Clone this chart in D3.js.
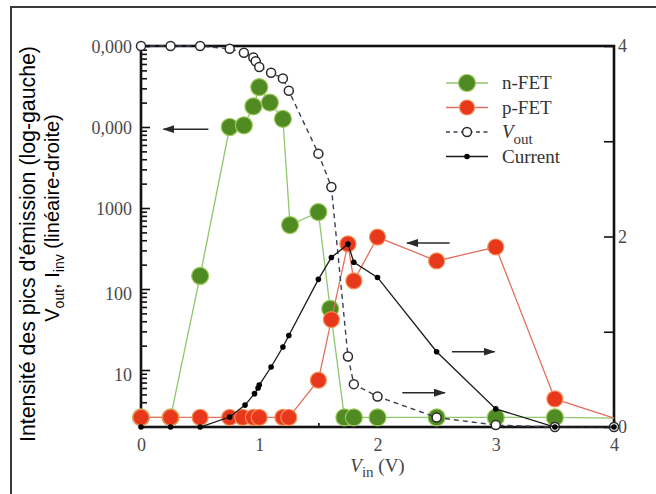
<!DOCTYPE html>
<html><head><meta charset="utf-8">
<script src="https://cdn.jsdelivr.net/npm/d3@7"></script>
<style>body{margin:0;background:#fff}</style>
</head><body><svg id="c" width="656" height="494"></svg>
<script>
// ---- data ----
const xTicks = [0, 1, 2, 3, 4];
const xTickLabels = ["0", "1", "2", "3", "4"];
const xMinorTicks = [0.5, 1.5, 2.5, 3.5];
const leftTickValues = [10, 100, 1000, 10000, 100000];
const leftTickLabels = ["10", "100", "1000", "0,000", "0,000"];
const rightTickValues = [0, 1, 2, 3, 4];
const rightTickLabels = ["0", "", "2", "", "4"];

const nfetX = [0, 0.25, 0.5, 0.75, 0.87, 0.95, 1.0, 1.09, 1.2, 1.26, 1.5, 1.6, 1.72, 1.8, 2.0, 2.5, 3.0, 3.5, 4.0];
const nfetY = [2.6, 2.6, 145, 10000, 10500, 18000, 31000, 20000, 12600, 616, 890, 57, 2.6, 2.6, 2.6, 2.6, 2.6, 2.6, 2.55];

const pfetX = [0, 0.25, 0.5, 0.75, 0.86, 0.95, 1.0, 1.2, 1.25, 1.5, 1.61, 1.75, 1.8, 2.0, 2.5, 3.0, 3.5, 4.0];
const pfetY = [2.6, 2.6, 2.6, 2.6, 2.6, 2.6, 2.6, 2.6, 2.6, 7.5, 42, 360, 126, 438, 222, 330, 4.4, 2.55];

const voutX = [0, 0.25, 0.5, 0.75, 0.87, 0.95, 0.97, 1.0, 1.1, 1.2, 1.25, 1.5, 1.61, 1.75, 1.8, 2.0, 2.5, 3.0, 3.5, 4.0];
const voutY = [4.0, 4.0, 4.0, 3.97, 3.93, 3.88, 3.84, 3.78, 3.72, 3.66, 3.53, 2.87, 2.52, 0.74, 0.45, 0.32, 0.10, 0.02, 0.0, 0.0];

const currentX = [0, 0.25, 0.5, 0.75, 0.88, 0.96, 0.99, 1.0, 1.1, 1.2, 1.25, 1.5, 1.61, 1.75, 1.8, 2.0, 2.5, 3.0, 3.5, 4.0];
const currentY = [0, 0, 0, 0.105, 0.23, 0.35, 0.41, 0.44, 0.63, 0.84, 0.96, 1.55, 1.78, 1.92, 1.73, 1.57, 0.79, 0.19, 0, 0];

// annotation arrows: [x from, x to, value, axis]
const arrows = [
  [0.57, 0.19, 9400, "L"],
  [2.61, 2.25, 370, "L"],
  [2.63, 2.99, 0.79, "R"],
  [2.21, 2.57, 0.36, "R"]
];

const legendLabels = ["n-FET", "p-FET", "V", "Current"];

// ---- chart ----
const W = 656, H = 494;
const svg = d3.select("#c");
svg.append("rect").attr("width", W).attr("height", H).attr("fill", "#fff");

const plot = {left: 141, right: 614, top: 46, bottom: 427};
const x = d3.scaleLinear().domain([0, 4]).range([plot.left, plot.right]);
const yL = d3.scaleLog().domain([1.98, 100000]).range([plot.bottom, plot.top]);
const yR = d3.scaleLinear().domain([0, 4]).range([plot.bottom, plot.top]);

// outer frame (top + left)
svg.append("path").attr("d", `M11,494 L11,7 L656,7`).attr("fill", "none")
  .attr("stroke", "#3a3a3a").attr("stroke-width", 2);

const serif = "'Liberation Serif', 'Times New Roman', serif";
const tickColor = "#4a4a4a";

function styleAxis(g, fs) {
  g.select(".domain").remove();
  g.selectAll(".tick line").attr("stroke", "#111").attr("stroke-width", 1.6);
  g.selectAll(".tick text").attr("font-family", serif).attr("font-size", fs).attr("fill", tickColor);
}

// left log axis major
const gL = svg.append("g").attr("transform", `translate(${plot.left},0)`)
  .call(d3.axisLeft(yL).tickValues(leftTickValues)
    .tickFormat((d, i) => leftTickLabels[i]).tickSize(-9).tickSizeOuter(0).tickPadding(9));
styleAxis(gL, 18);
gL.selectAll(".tick text").attr("dy", (d, i) => (i < 2 ? 0.6 : 0.35) + "em");
// left log axis minor
const minorL = [];
for (let d = 0; d < 5; d++) for (let k = 2; k <= 9; k++) {
  const v = k * Math.pow(10, d);
  if (v >= 1.98 && v < 100000) minorL.push(v);
}
const gLm = svg.append("g").attr("transform", `translate(${plot.left},0)`)
  .call(d3.axisLeft(yL).tickValues(minorL).tickFormat("").tickSize(-6).tickSizeOuter(0));
styleAxis(gLm, 18);

// right axis
const gR = svg.append("g").attr("transform", `translate(${plot.right},0)`)
  .call(d3.axisRight(yR).tickValues(rightTickValues)
    .tickFormat((d, i) => rightTickLabels[i]).tickSize(-10).tickSizeOuter(0).tickPadding(4));
styleAxis(gR, 18);

// bottom axis
const gB = svg.append("g").attr("transform", `translate(0,${plot.bottom})`)
  .call(d3.axisBottom(x).tickValues(xTicks)
    .tickFormat((d, i) => xTickLabels[i]).tickSize(-7).tickSizeOuter(0).tickPadding(11));
styleAxis(gB, 18);
const gBm = svg.append("g").attr("transform", `translate(0,${plot.bottom})`)
  .call(d3.axisBottom(x).tickValues(xMinorTicks).tickFormat("").tickSize(-4).tickSizeOuter(0));
styleAxis(gBm, 18);

// frame of plot
svg.append("rect").attr("x", plot.left).attr("y", plot.top)
  .attr("width", plot.right - plot.left).attr("height", plot.bottom - plot.top)
  .attr("fill", "none").attr("stroke", "#111").attr("stroke-width", 2.6);

// x-axis label
const xl = svg.append("text").attr("x", x(2)).attr("y", 472).attr("text-anchor", "middle")
  .attr("font-family", serif).attr("font-size", 19).attr("fill", "#444");
xl.append("tspan").attr("font-style", "italic").text("V");
xl.append("tspan").attr("dy", 5).attr("font-size", 15).text("in");
xl.append("tspan").attr("dy", -5).text(" (V)");

// y-axis titles
const sans = "'Liberation Sans', Arial, sans-serif";
svg.append("text").attr("transform", "translate(35,244) rotate(-90)")
  .attr("text-anchor", "middle").attr("font-family", sans).attr("font-size", 21.3).attr("fill", "#000")
  .text("Intensité des pics d'émission (log-gauche)");
const t2 = svg.append("text").attr("transform", "translate(59,218) rotate(-90)")
  .attr("text-anchor", "middle").attr("font-family", sans).attr("font-size", 20).attr("fill", "#000");
t2.append("tspan").text("V");
t2.append("tspan").attr("dy", 5).attr("font-size", 14).text("out");
t2.append("tspan").attr("dy", -5).text(", I");
t2.append("tspan").attr("dy", 5).attr("font-size", 14).text("inv");
t2.append("tspan").attr("dy", -5).text(" (linéaire-droite)");

// ---- series ----
const nfet = nfetX.map((v, i) => ({x: v, y: nfetY[i]}));
const pfet = pfetX.map((v, i) => ({x: v, y: pfetY[i]}));
const vout = voutX.map((v, i) => ({x: v, y: voutY[i]}));
const cur = currentX.map((v, i) => ({x: v, y: currentY[i]}));

const lineL = d3.line().x(d => x(d.x)).y(d => yL(d.y));
const lineR = d3.line().x(d => x(d.x)).y(d => yR(d.y));

const green = "#4f8a23", greenEdge = "#9cc85a", greenLine = "#8fc66e";
const red = "#e8381c", redEdge = "#f4915a", redLine = "#e2705e";

// n-FET
svg.append("path").datum(nfet).attr("d", lineL).attr("fill", "none")
  .attr("stroke", greenLine).attr("stroke-width", 1.3);
svg.append("g").selectAll("circle").data(nfet.filter(d => d.x < 4)).join("circle")
  .attr("cx", d => x(d.x)).attr("cy", d => yL(d.y)).attr("r", 8.5)
  .attr("fill", green).attr("stroke", greenEdge).attr("stroke-width", 1.2);

// p-FET
svg.append("path").datum(pfet).attr("d", lineL).attr("fill", "none")
  .attr("stroke", redLine).attr("stroke-width", 1.3);
svg.append("g").selectAll("circle").data(pfet.filter(d => d.x < 4)).join("circle")
  .attr("cx", d => x(d.x)).attr("cy", d => yL(d.y)).attr("r", 8)
  .attr("fill", red).attr("stroke", redEdge).attr("stroke-width", 1.2);

// Vout
svg.append("path").datum(vout).attr("d", lineR).attr("fill", "none")
  .attr("stroke", "#3d3f55").attr("stroke-width", 1.4).attr("stroke-dasharray", "5,4");
svg.append("g").selectAll("circle").data(vout).join("circle")
  .attr("cx", d => x(d.x)).attr("cy", d => yR(d.y)).attr("r", 4.5)
  .attr("fill", "#fff").attr("stroke", "#2a2a2a").attr("stroke-width", 1.5);

// Current
svg.append("path").datum(cur).attr("d", lineR).attr("fill", "none")
  .attr("stroke", "#1a1a1a").attr("stroke-width", 1.3);
svg.append("g").selectAll("circle").data(cur).join("circle")
  .attr("cx", d => x(d.x)).attr("cy", d => yR(d.y)).attr("r", 2.8).attr("fill", "#000");

// arrows
svg.append("defs").append("marker").attr("id", "ah").attr("viewBox", "0 0 12 8")
  .attr("refX", 11).attr("refY", 4).attr("markerWidth", 12).attr("markerHeight", 8)
  .attr("markerUnits", "userSpaceOnUse").attr("orient", "auto")
  .append("path").attr("d", "M0,0 L12,4 L0,8 Z").attr("fill", "#2a2a2a");
arrows.forEach(a => {
  const yy = a[3] === "L" ? yL(a[2]) : yR(a[2]);
  svg.append("line").attr("x1", x(a[0])).attr("x2", x(a[1])).attr("y1", yy).attr("y2", yy)
    .attr("stroke", "#2a2a2a").attr("stroke-width", 1.5).attr("marker-end", "url(#ah)");
});

// legend
const lg = svg.append("g").attr("transform", "translate(446,83)");
const rowH = 24.5;
legendLabels.forEach((lab, i) => {
  const g = lg.append("g").attr("transform", `translate(0,${i * rowH})`);
  if (i === 0) {
    g.append("line").attr("x1", 0).attr("x2", 42).attr("stroke", greenLine).attr("stroke-width", 1.3);
    g.append("circle").attr("cx", 21).attr("r", 8.5).attr("fill", green).attr("stroke", greenEdge).attr("stroke-width", 1.2);
  } else if (i === 1) {
    g.append("line").attr("x1", 0).attr("x2", 42).attr("stroke", redLine).attr("stroke-width", 1.3);
    g.append("circle").attr("cx", 21).attr("r", 7.5).attr("fill", red).attr("stroke", redEdge).attr("stroke-width", 1.2);
  } else if (i === 2) {
    g.append("line").attr("x1", 0).attr("x2", 42).attr("stroke", "#3d3f55").attr("stroke-width", 1.4).attr("stroke-dasharray", "4,3.5");
    g.append("circle").attr("cx", 21).attr("r", 4.5).attr("fill", "#fff").attr("stroke", "#2a2a2a").attr("stroke-width", 1.5);
  } else {
    g.append("line").attr("x1", 0).attr("x2", 42).attr("stroke", "#1a1a1a").attr("stroke-width", 1.3);
    g.append("circle").attr("cx", 21).attr("r", 2.8).attr("fill", "#000");
  }
  const t = g.append("text").attr("x", 56).attr("y", 6).attr("font-family", serif)
    .attr("font-size", 19).attr("fill", "#333");
  if (i === 2) {
    t.append("tspan").attr("font-style", "italic").text("V");
    t.append("tspan").attr("dy", 6).attr("font-size", 15).text("out");
  } else {
    t.text(lab);
  }
});
</script>
</body></html>
